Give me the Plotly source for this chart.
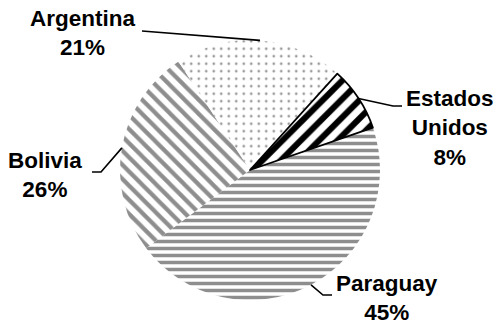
import math
import plotly.graph_objects as go

# Share of each origin, listed clockwise from the Paraguay slice
countries = ["Paraguay", "Bolivia", "Argentina", "Estados Unidos"]
shares = [45, 26, 21, 8]
label_lines = ["Paraguay", "Bolivia", "Argentina", "Estados<br>Unidos"]

# Fill patterns per slice
pattern_shapes = ["-", "\\", ".", "/"]
pattern_fg = ["#8e8e8e", "#8e8e8e", "#9a9a9a", "#000000"]
pattern_sizes = [7, 10, 7.5, 13]
pattern_solidity = [0.5, 0.42, 0.1, 0.47]

W, H = 500, 327
CX, CY, R = 250, 170, 130          # pie centre / radius in pixels
ROTATION = 71                      # start angle of first slice (deg, clockwise from 12 o'clock)

# Text anchor (centre) and leader elbow points for each label, in pixels
label_pos = {
    "Paraguay": (387, 298),
    "Bolivia": (45, 175),
    "Argentina": (82, 33),
    "Estados Unidos": (450, 128),
}
leader_pts = {
    "Paraguay": [(323, 295), (332, 295)],
    "Bolivia": [(101, 172), (92, 172)],
    "Argentina": [(142, 31)],
    "Estados Unidos": [(393, 106), (402, 106)],
}


def to_paper(x, y):
    return x / W, 1 - y / H


fig = go.Figure()

x0, _ = to_paper(CX - R, 0)
x1, _ = to_paper(CX + R, 0)
_, y0 = to_paper(0, CY + R)
_, y1 = to_paper(0, CY - R)

fig.add_trace(go.Pie(
    labels=countries,
    values=shares,
    sort=False,
    direction="clockwise",
    rotation=ROTATION,
    textinfo="none",
    hoverinfo="label+percent",
    domain=dict(x=[x0, x1], y=[y0, y1]),
    marker=dict(
        colors=["white"] * 4,
        line=dict(color=["white", "white", "white", "black"], width=[0, 0, 0, 1.8]),
        pattern=dict(
            shape=pattern_shapes,
            fgcolor=pattern_fg,
            fgopacity=1,
            bgcolor="white",
            size=pattern_sizes,
            solidity=pattern_solidity,
            fillmode="overlay",
        ),
    ),
    showlegend=False,
))

total = sum(shares)
cum = 0
shapes = []
annotations = []
for name, val, txt in zip(countries, shares, label_lines):
    mid = math.radians(ROTATION + 360 * (cum + val / 2) / total)
    cum += val
    rim = (CX + R * math.sin(mid), CY - R * math.cos(mid))
    pts = [rim] + leader_pts[name]
    path = "M " + " L ".join(
        f"{to_paper(px, py)[0]:.5f},{to_paper(px, py)[1]:.5f}" for px, py in pts
    )
    shapes.append(dict(type="path", path=path, xref="paper", yref="paper",
                       line=dict(color="black", width=1.6)))
    ax, ay = to_paper(*label_pos[name])
    annotations.append(dict(
        x=ax, y=ay, xref="paper", yref="paper",
        xanchor="center", yanchor="middle", showarrow=False,
        text=f"<b>{txt}<br>{val}%</b>",
        font=dict(family="Liberation Sans, Arial, sans-serif", size=22.5, color="black"),
        align="center",
    ))

fig.update_layout(
    width=W, height=H,
    margin=dict(l=0, r=0, t=0, b=0),
    paper_bgcolor="white",
    plot_bgcolor="white",
    shapes=shapes,
    annotations=annotations,
)

fig.write_html("out.html")
